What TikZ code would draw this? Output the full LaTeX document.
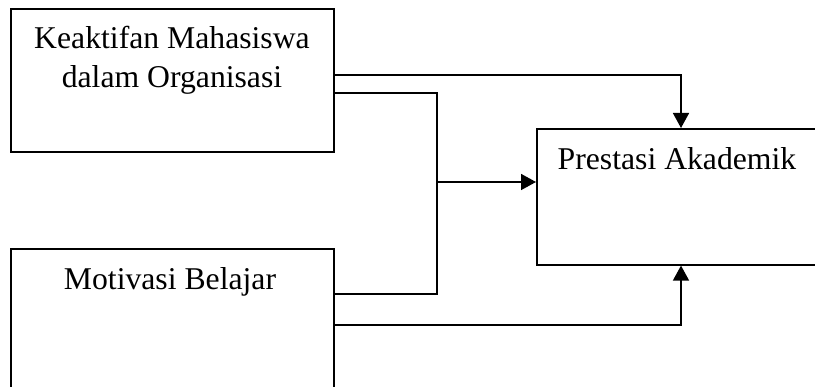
\documentclass[tikz,border=0pt]{standalone}
\usepackage{fontspec}
\setmainfont{Liberation Serif}
\usetikzlibrary{arrows.meta}
\begin{document}
\begin{tikzpicture}[x=1pt, y=-1pt,
  box/.style={draw, line width=1.6pt, inner sep=0pt, anchor=north west},
  lbl/.style={font=\fontsize{31.7}{38}\selectfont, inner sep=0pt, anchor=base},
  link/.style={line width=1.6pt},
  arr/.style={link, -{Triangle[width=16pt,length=15pt]}}]
\useasboundingbox (0,0) rectangle (815,387);
\clip (0,0) rectangle (815,387);
% boxes
\node[box, minimum width=323pt, minimum height=143pt] (kb) at (10,8) {};
\node[box, minimum width=323pt, minimum height=200pt] (mb) at (10,248) {};
\node[box, minimum width=330pt, minimum height=136pt] (pa) at (536,128) {};
% labels
\node[lbl] (kb1) at (172,49) {Keaktifan Mahasiswa};
\node[lbl] (kb2) at (172,88) {dalam Organisasi};
\node[lbl] (mb1) at (170,290) {Motivasi Belajar};
\node[lbl] (pa1) at (677,170) {Prestasi Akademik};
% connectors
\coordinate (j) at (437,182);
\draw[arr] (kb.east |- 0,75) -| (681,0 |- pa.north);
\draw[link] (kb.east |- 0,93) -| (437,294) -- (mb.east |- 0,294);
\draw[arr] (j) -- (pa.west |- j);
\draw[arr] (mb.east |- 0,325) -| (681,0 |- pa.south);
\end{tikzpicture}
\end{document}
